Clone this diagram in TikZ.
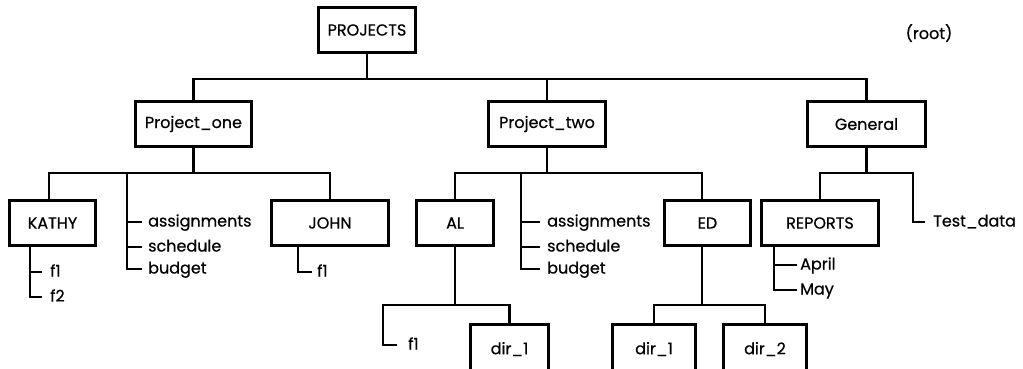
\documentclass[tikz,border=0pt]{standalone}
\usepackage{fontspec}
\setmainfont{Poppins}[FakeBold=0.6]
\begin{document}
\begin{tikzpicture}[x=1pt,y=-1pt,
  every node/.style={font=\fontsize{16}{19}\selectfont},
  box/.style={draw, line width=3.4pt, inner sep=0pt, minimum height=45pt},
  dirbox/.style={box, minimum height=56pt, text height=11pt, text depth=8pt},
  file/.style={inner sep=0pt, anchor=west, text height=9pt, text depth=0pt},
  conn/.style={line width=2.2pt}]
\useasboundingbox (0,0) rectangle (1023,368);
\clip (0,0) rectangle (1023,368);

% top level
\node[box, minimum width=97pt] (root) at (367,30) {PROJECTS};
\node (rootlbl) at (929,33) {(root)};

% second level
\node[box, minimum width=116pt] (p1) at (193.5,124) {Project\_one};
\node[box, minimum width=117pt] (p2) at (547,124) {Project\_two};
\node[box, minimum width=118pt] (gen) at (866.5,124) {General};

\draw[conn] (root.south) -- ++(0,25) coordinate (b0);
\draw[conn] (p1.north) |- (b0) -| (gen.north);
\draw[conn] (p2.north) -- (p2.north |- b0);

% third level boxes
\node[box, minimum width=86pt] (kathy) at (52.5,223) {KATHY};
\node[box, minimum width=117pt] (john) at (330,223) {JOHN};
\node[box, minimum width=77pt] (al) at (455,223) {AL};
\node[box, minimum width=86pt] (ed) at (707.5,223) {ED};
\node[box, minimum width=117pt] (reports) at (820,223) {REPORTS};

% files of Project_one
\node[file] (a1) at (148,222) {assignments};
\node[file] (s1) at (148,247) {schedule};
\node[file] (bu1) at (148,269) {budget};

\draw[conn] (p1.south) -- ++(0,25) coordinate (b1);
\draw[conn] ([xshift=-3.5]kathy.north) |- (b1) -| (john.north);
\draw[conn] (b1) -| ([xshift=-21]bu1.west) -- ([xshift=-6]bu1.west);
\draw[conn] ([xshift=-21]a1.west) -- ([xshift=-6]a1.west);
\draw[conn] ([xshift=-21]s1.west) -- ([xshift=-6]s1.west);

% files of Project_two
\node[file] (a2) at (547,222) {assignments};
\node[file] (s2) at (547,247) {schedule};
\node[file] (bu2) at (547,269) {budget};

\draw[conn] (p2.south) -- ++(0,25) coordinate (b2);
\draw[conn] (al.north) |- (b2) -| ([xshift=-5.5]ed.north);
\draw[conn] (b2) -| ([xshift=-26]bu2.west) -- ([xshift=-7]bu2.west);
\draw[conn] ([xshift=-26]a2.west) -- ([xshift=-7]a2.west);
\draw[conn] ([xshift=-26]s2.west) -- ([xshift=-7]s2.west);

% General
\node[file] (td) at (933,222) {Test\_data};
\draw[conn] (gen.south) -- ++(0,25) coordinate (b3);
\draw[conn] (reports.north) |- (b3) -| ([xshift=-20]td.west) -- ([xshift=-8]td.west);

% KATHY's files
\node[file] (kf1) at (50,272) {f1};
\node[file] (kf2) at (50,297) {f2};
\draw[conn] ([xshift=-22.5]kathy.south) |- ([xshift=-8]kf2.west);
\draw[conn] ([xshift=-20]kf1.west) -- ([xshift=-8]kf1.west);

% JOHN's file
\node[file] (jf1) at (317,272) {f1};
\draw[conn] ([xshift=-32]john.south) |- ([xshift=-5]jf1.west);

% REPORTS' files
\node[file] (apr) at (800,265) {April};
\node[file] (may) at (800,290) {May};
\draw[conn] ([xshift=-46]reports.south) |- ([xshift=-3]may.west);
\draw[conn] ([xshift=-26]apr.west) -- ([xshift=-3]apr.west);

% AL's contents (boxes run past the lower edge)
\node[file] (alf1) at (408,345) {f1};
\node[dirbox, minimum width=78pt, anchor=north] (ald1) at (509.5,323) {dir\_1};
\draw[conn] (al.south) -- ++(0,58) coordinate (b4);
\draw[conn] (ald1.north) |- (b4) -| ([xshift=-25]alf1.west) -- ([xshift=-11]alf1.west);

% ED's contents
\node[dirbox, minimum width=83pt, anchor=north] (edd1) at (654,323) {dir\_1};
\node[dirbox, minimum width=83pt, anchor=north] (edd2) at (765,323) {dir\_2};
\draw[conn] ([xshift=-5.5]ed.south) -- ++(0,58) coordinate (b5);
\draw[conn] (edd1.north) |- (b5) -| (edd2.north);
\end{tikzpicture}
\end{document}
